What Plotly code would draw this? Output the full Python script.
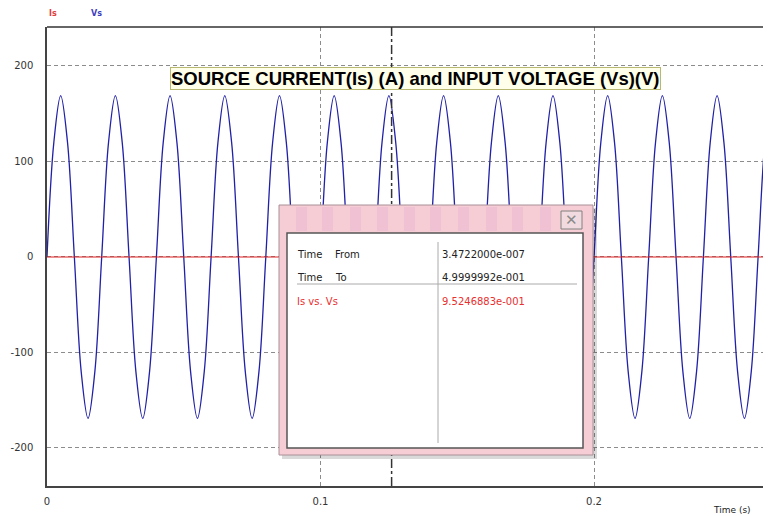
import plotly.graph_objects as go

# ---- data ----
t_step = 0.0025  # sampling step of the read points (s)
vs_values = [
    0, 120, 169, 120, 0, -120, -169, -120,
    0, 120, 169, 120, 0, -120, -169, -120,
    0, 120, 169, 120, 0, -120, -169, -120,
    0, 120, 169, 120, 0, -120, -169, -120,
    0, 120, 169, 120, 0, -120, -169, -120,
    0, 120, 169, 120, 0, -120, -169, -120,
    0, 120, 169, 120, 0, -120, -169, -120,
    0, 120, 169, 120, 0, -120, -169, -120,
    0, 120, 169, 120, 0, -120, -169, -120,
    0, 120, 169, 120, 0, -120, -169, -120,
    0, 120, 169, 120, 0, -120, -169, -120,
    0, 120, 169, 120, 0, -120, -169, -120,
    0, 120, 169, 120, 0, -120, -169, -120,
    0, 120, 169,
]
vs_time = [i * t_step for i in range(len(vs_values))]
is_time = [0.0, 0.265]
is_values = [0.0, 0.0]
cursor_t = 0.126

x_ticks = [0, 0.1, 0.2]
x_labels = ["0", "0.1", "0.2"]
y_ticks = [-200, -100, 0, 100, 200]
y_labels = ["-200", "-100", "0", "100", "200"]

dlg_rows = [("Time", "From", "3.4722000e-007", "#222222"),
            ("Time", "To", "4.9999992e-001", "#222222"),
            ("Is vs. Vs", "", "9.5246883e-001", "#e83030")]

W, H = 771, 516
O = 8  # page body offset of the figure in the browser
L, R, T, B = 39, 8, 19, 38
PW, PH = W - L - R, H - T - B

def px(sx):
    return (sx - O - L) / PW

def py(sy):
    return (H - B - (sy - O)) / PH

FONT = "DejaVu Sans, Verdana, sans-serif"
TFONT = "Liberation Sans, Arial, sans-serif"

fig = go.Figure()
fig.add_trace(go.Scatter(x=vs_time, y=vs_values, mode="lines", name="Vs",
                         line=dict(color="#2020a8", width=1.3, shape="spline", smoothing=1.0)))
fig.add_trace(go.Scatter(x=is_time, y=is_values, mode="lines", name="Is",
                         line=dict(color="#e02020", width=1.2)))

shapes = []
# top border line
shapes.append(dict(type="line", xref="paper", yref="paper", x0=0, x1=1, y0=1, y1=1,
                   line=dict(color="#333333", width=1.5)))
# cursor line
shapes.append(dict(type="line", xref="x", yref="paper", x0=cursor_t, x1=cursor_t, y0=0, y1=1,
                   line=dict(color="#333333", width=1.5, dash="dashdot"), layer="above"))
# dialog shadow
shapes.append(dict(type="rect", xref="paper", yref="paper", x0=px(282), x1=px(597), y0=py(459), y1=py(208),
                   fillcolor="rgba(0,0,0,0.15)", line=dict(width=0), layer="above"))
# dialog frame
shapes.append(dict(type="rect", xref="paper", yref="paper", x0=px(279), x1=px(593), y0=py(455), y1=py(205),
                   fillcolor="#f7cdd5", line=dict(color="#a89098", width=1), layer="above"))
# title bar stripes (soft)
stripe_x = [296, 322, 350, 377, 404, 430, 458, 486, 512, 540]
for sx in stripe_x:
    shapes.append(dict(type="rect", xref="paper", yref="paper", x0=px(sx), x1=px(sx + 11), y0=py(231), y1=py(207),
                       fillcolor="rgba(190,120,190,0.14)", line=dict(width=0), layer="above"))
# close button
shapes.append(dict(type="rect", xref="paper", yref="paper", x0=px(561), x1=px(582), y0=py(229), y1=py(211),
                   fillcolor="#f2dbe0", line=dict(color="#808080", width=1), layer="above"))
# inner panel
shapes.append(dict(type="rect", xref="paper", yref="paper", x0=px(287), x1=px(583), y0=py(448), y1=py(233),
                   fillcolor="white", line=dict(color="#555555", width=1.5), layer="above"))
# divider lines
shapes.append(dict(type="line", xref="paper", yref="paper", x0=px(438), x1=px(438), y0=py(443), y1=py(242),
                   line=dict(color="#aaaaaa", width=1), layer="above"))
shapes.append(dict(type="line", xref="paper", yref="paper", x0=px(297), x1=px(577), y0=py(284), y1=py(284),
                   line=dict(color="#aaaaaa", width=1), layer="above"))

def note(text, sx, sy, size, color, family=FONT, xanchor="left", **kw):
    return dict(text=text, xref="paper", yref="paper", x=px(sx), y=py(sy), xanchor=xanchor,
                yanchor="middle", showarrow=False, font=dict(family=family, size=size, color=color), **kw)

ann = []
ann.append(note("<b>SOURCE CURRENT(Is) (A) and INPUT VOLTAGE (Vs)(V)</b>", 415, 78, 18.5, "black",
                family=TFONT, xanchor="center", bgcolor="#ffffea", bordercolor="#b8b870",
                borderwidth=1, borderpad=0))
ann.append(note("<b>Is</b>", 47, 14, 8, "#e04040"))
ann.append(note("<b>Vs</b>", 89, 14, 8, "#4040c0"))
ann.append(note("Time (s)", 753, 510, 9, "#222222", xanchor="right"))
ann.append(note("<b>✕</b>", 571.5, 220, 15, "#8a8a8a", family="DejaVu Sans", xanchor="center"))
row_y = [254, 277, 301]
for (a, b, v, c), yy in zip(dlg_rows, row_y):
    ann.append(note(a, 295, yy, 10, c))
    if b:
        ann.append(note(b, 333, yy, 10, c))
    ann.append(note(v, 440, yy, 10, c))

fig.update_layout(
    width=W, height=H, margin=dict(l=L, r=R, t=T, b=B, autoexpand=False),
    paper_bgcolor="white", plot_bgcolor="white", showlegend=False,
    font=dict(family=FONT, size=10, color="#333333"),
    shapes=shapes, annotations=ann,
    xaxis=dict(range=[0, PW / 2735.0], tickvals=x_ticks, ticktext=x_labels,
               showgrid=True, gridcolor="#8c8c8c", griddash="4px,3px", gridwidth=1,
               zeroline=False, showline=True, linecolor="#444444", linewidth=1.5, mirror=False,
               ticks="", ticklabelstandoff=5, tickfont=dict(family=FONT, size=10, color="#333333")),
    yaxis=dict(range=[-239.8, 240.8], tickvals=y_ticks, ticktext=y_labels,
               showgrid=True, gridcolor="#8c8c8c", griddash="4px,3px", gridwidth=1,
               zeroline=False, showline=True, linecolor="#444444", linewidth=1.5,
               ticks="", ticklabelstandoff=10, tickfont=dict(family=FONT, size=10, color="#333333")),
)

fig.write_html("out.html")
